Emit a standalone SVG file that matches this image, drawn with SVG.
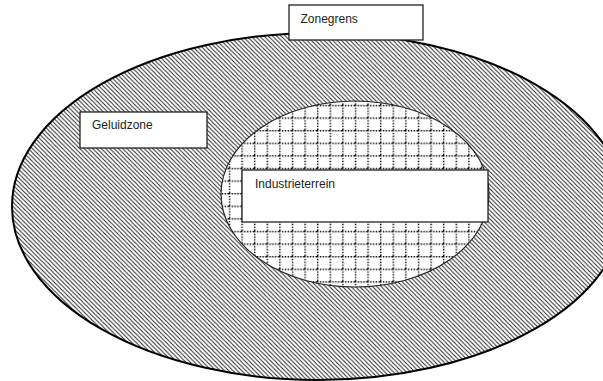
<svg xmlns="http://www.w3.org/2000/svg" width="603" height="381" viewBox="0 0 603 381">
  <defs>
    <pattern id="hatch" patternUnits="userSpaceOnUse" width="4.3" height="4.3">
      <path d="M-1,-1 L5.3,5.3 M-1,3.3 L1,5.3 M3.3,-1 L5.3,1" stroke="#1a1a1a" stroke-width="0.9"/>
    </pattern>
    <pattern id="grid" patternUnits="userSpaceOnUse" x="2" y="4" width="12.6" height="12.6">
      <rect width="12.6" height="12.6" fill="#fff"/>
      <path d="M0,0.7 H12.6 M0.7,0 V12.6" stroke="#000" stroke-width="1.4" stroke-dasharray="1.4 1.4" fill="none"/>
    </pattern>
    <style>
      .box { fill: #fff; stroke: #222; stroke-width: 1.3; }
      .lbl { font-family: "Liberation Sans", Arial, sans-serif; font-size: 12px; fill: #222; }
    </style>
  </defs>
  <rect width="603" height="381" fill="#fff"/>
  <g id="geluidzone-area">
    <ellipse cx="318" cy="206.5" rx="306" ry="173.5" fill="url(#hatch)" stroke="#000" stroke-width="2"/>
  </g>
  <g id="industrieterrein-area">
    <ellipse cx="355" cy="194" rx="134" ry="93" fill="url(#grid)" stroke="#222" stroke-width="1.2"/>
  </g>
  <g id="zonegrens">
    <rect class="box" x="289" y="5" width="134" height="35"/>
    <text class="lbl" x="300.5" y="23">Zonegrens</text>
  </g>
  <g id="geluidzone">
    <rect class="box" x="80" y="112" width="127" height="36"/>
    <text class="lbl" x="92" y="128.5">Geluidzone</text>
  </g>
  <g id="industrieterrein">
    <rect class="box" x="242" y="170" width="246" height="52"/>
    <text class="lbl" x="255" y="187.5">Industrieterrein</text>
  </g>
</svg>
